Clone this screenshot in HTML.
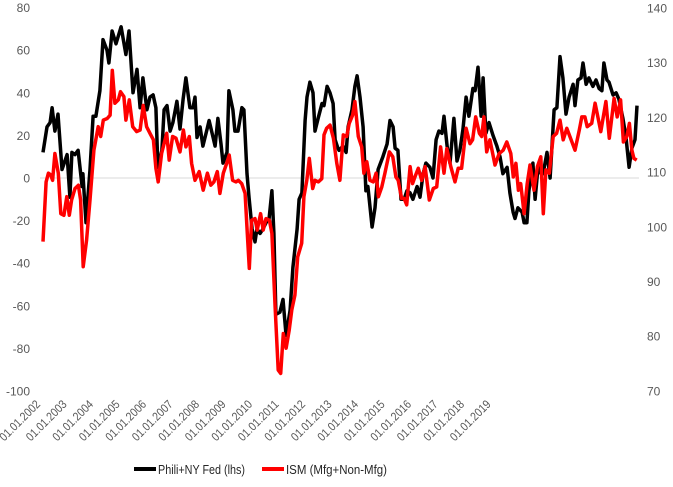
<!DOCTYPE html>
<html><head><meta charset="utf-8"><style>
html,body{margin:0;padding:0;background:#fff;}
svg{display:block;font-family:"Liberation Sans",sans-serif;}
</style></head><body>
<svg id="chart" width="673" height="487" viewBox="0 0 673 487" xmlns="http://www.w3.org/2000/svg">
<g id="axes"></g>
<g id="series"></g>
<g>
<line x1="134" y1="469" x2="156" y2="469" stroke="#000" stroke-width="4"/>
<text x="158" y="474" font-size="13" fill="#262626" textLength="87" lengthAdjust="spacingAndGlyphs">Phili+NY Fed (lhs)</text>
<line x1="262" y1="469" x2="284" y2="469" stroke="#f00" stroke-width="4"/>
<text x="286" y="474" font-size="13" fill="#262626" textLength="101" lengthAdjust="spacingAndGlyphs">ISM (Mfg+Non-Mfg)</text>
</g>
</svg>
<script>
const leftTicks=[80,60,40,20,0,-20,-40,-60,-80,-100];
const rightTicks=[140,130,120,110,100,90,80,70];
const xLabels=["01.01.2002","01.01.2003","01.01.2004","01.01.2005","01.01.2006","01.01.2007","01.01.2008","01.01.2009","01.01.2010","01.01.2011","01.01.2012","01.01.2013","01.01.2014","01.01.2015","01.01.2016","01.01.2017","01.01.2018","01.01.2019"];
// months since Jan 2002 for each reading
const philiMonths=[0,1.4,2.5,3.2,4.2,5.3,6.7,8.5,9.5,10.2,11.3,12.4,13.8,14.1,15.2,16.6,17.7,18.7,20.1,21.2,22.6,23.3,24.4,25.8,27.6,29.3,30.4,31.8,33.2,34.3,35.3,36.7,37.8,38.9,39.9,40.6,42.0,42.8,43.8,44.9,45.9,47.3,48.4,49.5,50.5,51.9,53.0,53.7,54.4,55.5,56.5,58.0,58.7,60.1,60.8,61.8,62.9,63.6,65.0,65.7,67.1,67.8,68.9,70.3,71.0,72.1,72.8,73.9,74.9,75.6,76.7,77.7,79.2,79.9,80.9,81.6,82.3,83.7,84.8,85.9,87.3,88.3,89.8,90.5,91.5,92.6,93.3,94.3,95.4,96.1,97.2,98.6,99.3,100.4,101.4,102.5,103.2,104.2,104.6,106.0,107.1,107.8,109.2,110.2,111.0,112.0,113.1,114.1,114.8,116.3,117.3,118.4,120.1,121.6,122.6,123.7,124.4,125.4,126.5,127.6,128.6,129.7,130.7,132.2,133.2,134.3,135.3,136.7,137.8,138.9,139.9,141.0,141.7,142.8,143.8,145.2,146.3,147.3,148.4,149.5,150.5,151.9,152.7,153.7,154.8,155.5,156.5,157.6,159.0,160.4,161.5,162.5,164.0,165.0,166.1,166.8,167.8,169.3,170.0,171.0,171.7,173.1,173.9,174.9,176.0,176.7,178.1,179.2,180.6,181.6,182.7,183.7,184.8,185.9,187.3,188.0,189.0,190.1,190.8,191.9,192.9,194.3,195.4,196.5,197.5,198.2,199.3,200.0,201.4,202.5,203.5,204.9,206.0,207.1,208.1,209.2,209.9];
const philiNY=[12,24,26,33,22,30,4,11,-9,12,11,13,-4,2,-21,4,29,29,41,65,60,54,69,63,71,58,69,40,51,33,47,32,38,39,33,5,13,32,34,22,26,36,23,37,47,33,33,38,19,24,15,23,27,19,15,28,16,7,12,41,32,22,22,33,32,2,-9,-24,-30,-24,-26,-24,-20,-19,-6,-26,-64,-63,-57,-74,-62,-42,-24,-10,-7,27,38,45,40,22,28,35,34,43,40,35,18,14,13,15,12,24,32,43,48,38,24,-6,-4,-23,-14,4,10,16,27,24,14,13,-10,-10,-6,-7,-10,-4,-9,2,7,5,0,18,22,21,29,15,7,28,8,13,23,38,29,42,41,52,29,47,21,26,20,15,10,2,5,-7,-16,-19,-14,-16,-21,-21,-6,7,-10,5,2,2,12,0,32,33,57,47,30,38,44,34,46,47,54,44,47,43,46,42,41,54,46,45,39,40,37,28,19,5,14,18,34];
const ismMonths=[0,1.1,1.9,2.7,3.4,4.2,5.4,6.3,7.4,8.4,9.3,10.1,11.3,12.5,13.3,14.2,15.4,16.6,18.0,19.5,20.4,21.3,22.7,23.7,24.5,25.4,26.6,27.4,28.6,29.3,30.5,31.7,33.1,34.3,35.4,36.6,38.1,39.0,39.9,40.7,41.9,43.7,44.6,45.8,47.0,48.4,49.6,50.5,51.7,52.5,53.7,55.2,56.6,58.1,59.3,60.4,61.6,62.5,63.7,64.9,65.8,67.0,68.2,69.0,70.2,71.4,72.2,72.9,73.7,74.9,75.7,76.9,77.8,78.8,80.0,80.9,82.0,83.1,84.0,84.9,85.9,87.0,87.9,89.0,90.0,91.4,92.2,93.2,94.1,95.3,96.1,97.3,98.5,99.3,100.2,101.4,102.6,103.8,104.9,106.1,107.3,108.2,109.4,110.2,111.4,112.6,113.4,114.4,115.5,116.7,117.7,118.5,119.7,120.8,122.4,123.6,124.7,125.5,126.7,127.6,128.5,129.7,130.6,131.4,132.6,133.8,135.0,136.5,137.9,139.1,140.5,141.7,142.7,144.1,145.6,146.7,147.9,149.5,150.9,151.8,152.9,154.2,155.0,155.8,156.8,157.9,159.7,161.2,162.6,163.9,165.3,166.2,167.1,168.0,168.8,170.0,171.1,172.1,173.5,174.7,175.9,176.8,177.7,178.9,180.3,181.5,182.7,183.8,185.1,186.2,188.0,189.5,190.4,191.5,192.3,193.9,195.1,197.1,198.9,200.1,201.8,202.9,204.1,205.1,206.3,207.2,208.1,208.8,209.8];
const ism=[97.3,108.2,109.8,109.5,108.5,113.4,109.8,102.4,102.1,105.5,102.1,104.9,107,107.6,104.9,92.7,97.6,104.9,114,118.3,116.5,119.5,119.8,120.4,128.6,122.6,123.2,124.7,123.8,119.5,123.2,118.3,117.4,117.7,122.2,118.3,116.8,115.9,110.7,108.2,113.4,117.1,112.2,116.5,116.2,113.7,117.7,114.6,116.5,111.6,108.5,110.1,106.7,109.8,107.6,108.2,110.1,106.1,109.8,111.6,113.1,108.5,108.2,108.5,107.9,106.1,98.8,92.4,101.2,101.5,99.4,102.4,99.4,101.5,101.2,98.8,85.4,73.8,73.2,80.5,77.8,81.1,84.8,87.5,94.5,97,105.5,108.5,112.5,107,108.5,108.2,108.8,116.8,118,118.6,116.2,111.6,108.5,116.8,116.5,118.9,120.4,122.9,116.5,114.6,109.8,111.9,108.5,108.2,109.8,105.5,107.3,109.8,113.7,112.8,109.1,108.5,105.2,105.2,104,111,107.9,109.1,110.7,108.5,111,104.9,107,107.3,114.6,109.8,114.3,111,108.2,110.7,110.7,118,115.2,115.9,120.1,117.1,116.5,120.1,113.7,115.9,111.3,113.4,114,115.5,113.4,109.1,111.6,106.7,107.9,102.4,107.9,111.3,106.7,111,112.8,102.4,110.4,109.8,116.5,117.1,119.5,115.9,118,116.5,114,117.7,120.1,120.1,118.3,118.9,122.6,117.4,122.9,116.2,123.5,120.1,123.2,115.5,116.5,118.9,114,112.5,112.2];

const NS="http://www.w3.org/2000/svg";
function xM(m){return 43+m*2.83;}
function yL(v){return 178-(v)*42.6/20;}
function yR(v){return 8+(140-v)*54.7/10;}
const axes=document.getElementById('axes');
const series=document.getElementById('series');

const grid=document.createElementNS(NS,'line');


grid.setAttribute('x1',40);grid.setAttribute('x2',639);
grid.setAttribute('y1',yL(0));grid.setAttribute('y2',yL(0));
grid.setAttribute('stroke','#d9d9d9');grid.setAttribute('stroke-width','1');
axes.appendChild(grid);

leftTicks.forEach(v=>{
  const t=document.createElementNS(NS,'text');
  
  
  t.setAttribute('x',30);t.setAttribute('y',yL(v)+4.5);
  t.setAttribute('text-anchor','end');t.setAttribute('font-size','12');t.setAttribute('fill','#595959');
  t.textContent=v;axes.appendChild(t);
});
rightTicks.forEach(v=>{
  const t=document.createElementNS(NS,'text');
  
  
  t.setAttribute('x',647);t.setAttribute('y',yR(v)+4.5);
  t.setAttribute('font-size','12');t.setAttribute('fill','#595959');
  t.textContent=v;axes.appendChild(t);
});
xLabels.forEach((s,i)=>{
  const x=41+i*26.5, y=405;
  const t=document.createElementNS(NS,'text');
  
  
  t.setAttribute('x',x);t.setAttribute('y',y);
  t.setAttribute('text-anchor','end');t.setAttribute('font-size','12');t.setAttribute('fill','#595959');
  t.setAttribute('textLength','52');t.setAttribute('lengthAdjust','spacingAndGlyphs');
  t.setAttribute('transform','rotate(-45 '+x+' '+y+')');
  t.textContent=s;axes.appendChild(t);
});

function drawLine(ms,vals,yf,color,name){
  const n=Math.min(ms.length,vals.length);
  const pts=[];
  for(let i=0;i<n;i++)pts.push(xM(ms[i]).toFixed(1)+','+yf(vals[i]).toFixed(1));
  const p=document.createElementNS(NS,'polyline');
  
  
  p.setAttribute('points',pts.join(' '));
  p.setAttribute('fill','none');p.setAttribute('stroke',color);
  p.setAttribute('stroke-width','3.5');p.setAttribute('stroke-linejoin','round');
  series.appendChild(p);
}
drawLine(philiMonths,philiNY,yL,'#000','phili-ny-fed-line');
drawLine(ismMonths,ism,yR,'#f00','ism-line');
</script>
</body></html>
